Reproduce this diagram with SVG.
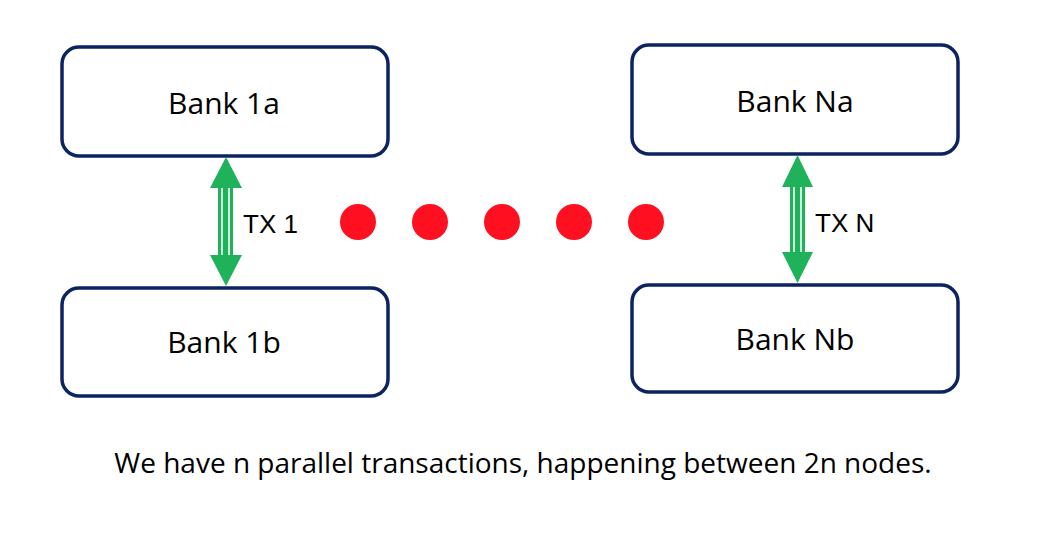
<svg xmlns="http://www.w3.org/2000/svg" width="1048" height="536" viewBox="0 0 1048 536">
<style>
.box{fill:#fff;stroke:#0b2360;stroke-width:3.5}
.lbl{font-family:"Open Sans",sans-serif;font-size:30px;fill:#000;text-anchor:middle}
.tx{font-family:"Liberation Sans",Arial,sans-serif;font-size:26px;fill:#000}
.cap{font-family:"Open Sans",sans-serif;font-size:28px;fill:#000;text-anchor:middle}
.dot{fill:#ff1020}
.head{fill:#1fb25a}
.shaft{fill:#1fb25a}
.stripe{stroke:#fff;stroke-width:1.6}
</style>
<rect width="1048" height="536" fill="#fff"/>
<g id="bank1a"><rect class="box" x="62" y="47" width="326" height="109" rx="17"/><text class="lbl" x="224" y="114">Bank 1a</text></g>
<g id="bank1b"><rect class="box" x="62" y="288" width="326" height="108" rx="17"/><text class="lbl" x="224" y="353">Bank 1b</text></g>
<g id="bankNa"><rect class="box" x="632" y="45" width="326" height="109" rx="17"/><text class="lbl" x="795" y="112">Bank Na</text></g>
<g id="bankNb"><rect class="box" x="632" y="285" width="326" height="107" rx="17"/><text class="lbl" x="795" y="350">Bank Nb</text></g>
<g id="connectors">
<g id="tx1">
<rect class="shaft" x="218" y="185" width="15" height="72"/>
<line class="stripe" x1="222" y1="186" x2="222" y2="256"/>
<line class="stripe" x1="229" y1="186" x2="229" y2="256"/>
<polygon class="head" points="226,157 242,188 210,188"/>
<polygon class="head" points="226,286 242,255 210,255"/>
<text class="tx" x="243" y="233">TX 1</text>
</g>
<g id="txN">
<rect class="shaft" x="790" y="185" width="15" height="69"/>
<line class="stripe" x1="794" y1="186" x2="794" y2="253"/>
<line class="stripe" x1="801" y1="186" x2="801" y2="253"/>
<polygon class="head" points="797.5,155 813,187 782,187"/>
<polygon class="head" points="797.5,283 813,252 782,252"/>
<text class="tx" x="815" y="232">TX N</text>
</g>
</g>
<g id="dots">
<circle class="dot" cx="358" cy="222" r="18"/>
<circle class="dot" cx="430" cy="222" r="18"/>
<circle class="dot" cx="502" cy="222" r="18"/>
<circle class="dot" cx="574" cy="222" r="18"/>
<circle class="dot" cx="646" cy="222" r="18"/>
</g>
<text class="cap" x="523" y="473">We have n parallel transactions, happening between 2n nodes.</text>
</svg>
